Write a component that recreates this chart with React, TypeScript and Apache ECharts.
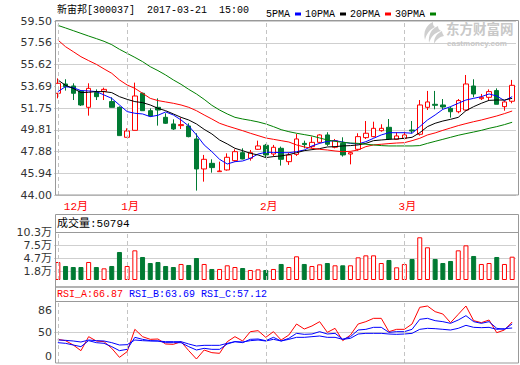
import React, { useEffect, useRef } from "react";
import * as echarts from "echarts";

const dates = [
  "2016-12-20","2016-12-21","2016-12-22","2016-12-23","2016-12-26","2016-12-27","2016-12-28","2016-12-29","2016-12-30",
  "2017-01-03","2017-01-04","2017-01-05","2017-01-06","2017-01-09","2017-01-10","2017-01-11","2017-01-12","2017-01-13",
  "2017-01-16","2017-01-17","2017-01-18","2017-01-19","2017-01-20","2017-01-23","2017-01-24","2017-01-25","2017-01-26",
  "2017-02-03","2017-02-06","2017-02-07","2017-02-08","2017-02-09","2017-02-10","2017-02-13","2017-02-14","2017-02-15",
  "2017-02-16","2017-02-17","2017-02-20","2017-02-21","2017-02-22","2017-02-23","2017-02-24","2017-02-27","2017-02-28",
  "2017-03-01","2017-03-02","2017-03-03","2017-03-06","2017-03-07","2017-03-08","2017-03-09","2017-03-10","2017-03-13",
  "2017-03-14","2017-03-15","2017-03-16","2017-03-17","2017-03-20","2017-03-21"
];

// [open, close, low, high]
const candles: number[][] = [
  [53.06,53.95,52.61,54.39],[53.89,53.65,53.30,54.31],[53.71,53.06,52.46,53.95],[53.27,52.02,51.93,53.35],
  [51.81,53.50,51.07,53.95],[53.12,52.76,52.46,53.41],[53.24,53.41,52.46,53.56],[52.32,51.81,51.81,52.70],
  [51.81,49.29,49.29,51.90],[49.14,49.70,49.14,49.94],[49.76,52.82,49.76,54.01],[53.06,51.51,51.51,53.12],
  [51.51,51.04,50.98,51.72],[51.81,51.57,50.18,52.61],[50.92,50.39,50.33,51.28],[50.33,49.88,49.79,50.74],
  [50.18,50.27,49.88,50.89],[50.15,49.20,49.14,50.39],[48.99,46.32,44.39,49.50],[46.32,47.18,45.19,47.57],
  [46.82,46.44,45.99,47.18],[46.08,46.14,46.08,46.97],[46.23,47.36,46.17,47.71],[47.06,47.86,46.97,48.07],
  [47.77,47.21,47.18,48.16],[47.27,47.77,47.06,48.01],[48.07,48.37,48.01,48.84],[48.43,47.57,47.36,48.55],
  [47.65,48.25,47.42,48.46],[48.16,47.18,46.62,48.31],[46.97,47.57,46.68,47.77],[47.62,48.99,47.48,49.44],
  [48.60,48.49,48.16,48.84],[48.31,48.69,48.16,49.20],[48.69,49.35,48.60,49.41],[49.35,48.52,48.37,49.59],
  [48.25,48.84,48.16,48.99],[48.60,47.57,47.42,49.14],[47.65,47.77,46.73,47.86],[48.07,49.20,47.95,49.50],
  [49.11,49.50,48.99,50.59],[49.20,49.94,49.14,50.53],[49.73,49.94,49.64,50.30],[50.03,48.99,48.90,50.77],
  [48.96,49.26,48.90,49.59],[49.05,49.35,48.96,49.59],[49.79,49.70,49.50,50.59],[49.41,52.02,49.29,52.46],
  [51.81,52.29,51.57,53.27],[52.08,51.99,51.63,53.27],[52.02,51.84,51.63,52.55],[51.72,51.42,50.89,51.87],
  [51.42,52.41,51.28,52.55],[51.57,53.89,51.51,54.69],[53.71,53.00,52.70,54.31],[52.58,52.70,52.46,53.00],
  [52.70,53.21,52.46,53.41],[53.30,52.08,52.08,53.50],[51.87,52.29,51.51,52.38],[52.35,53.77,52.17,54.25]
];

const ma5 = [53.21,53.65,53.56,53.30,53.27,53.21,52.91,52.61,52.02,51.43,51.28,51.22,50.98,51.10,51.40,51.13,50.68,50.15,49.35,48.46,
  47.86,47.18,46.76,46.97,47.03,47.27,47.65,47.80,47.80,47.77,47.77,47.86,48.01,48.37,48.60,48.78,48.84,48.72,48.60,48.55,
  48.75,49.05,49.35,49.55,49.55,49.55,49.50,50.09,50.68,51.13,51.63,51.87,52.17,52.46,52.61,52.76,53.00,52.82,52.41,52.76];
const ma10 = [54.25,53.77,53.50,53.12,53.15,53.21,53.21,53.12,52.76,52.52,52.32,52.23,52.02,51.72,51.51,51.22,50.92,50.68,50.33,49.85,
  49.44,48.90,48.55,48.16,47.95,47.71,47.57,47.33,47.42,47.48,47.60,47.77,47.95,48.04,48.13,48.28,48.31,48.37,48.40,48.46,
  48.60,48.84,48.90,48.96,48.99,49.05,49.14,49.55,50.09,50.39,50.59,50.74,50.92,51.51,51.87,52.17,52.43,52.46,52.46,52.61];
const ma20 = [57.81,57.21,56.77,56.32,55.97,55.64,55.23,54.84,54.25,53.80,53.50,53.06,52.61,52.41,52.29,52.17,52.02,51.81,51.51,51.13,
  50.77,50.39,50.15,49.94,49.73,49.50,49.29,49.08,48.96,48.84,48.72,48.46,48.28,48.16,48.07,48.01,47.92,47.86,47.89,48.01,
  48.31,48.46,48.52,48.58,48.63,48.66,48.84,49.05,49.35,49.53,49.76,49.97,50.18,50.36,50.53,50.68,50.86,51.04,51.25,51.48];
const ma30 = [59.11,58.88,58.64,58.40,58.16,57.93,57.69,57.39,56.98,56.62,56.26,55.88,55.43,55.08,54.69,54.25,53.86,53.41,53.00,52.52,
  51.99,51.57,51.22,50.92,50.77,50.65,50.51,50.33,50.09,49.82,49.64,49.50,49.38,49.26,49.08,48.90,48.78,48.69,48.63,48.60,
  48.52,48.46,48.40,48.37,48.37,48.37,48.37,48.40,48.60,48.78,48.96,49.14,49.32,49.47,49.61,49.76,49.94,50.09,50.27,50.48];

const volumes = [39200,30500,28300,28300,39200,28300,25400,30500,61000,30500,64600,50100,37000,39200,30500,28300,34900,32700,47900,34900,
  24000,24000,32000,28300,26100,21800,23200,21800,24000,34900,28300,51600,34900,30500,34100,37000,32000,32000,32000,49400,
  53700,53700,37000,43600,27600,34900,45800,93000,71200,45800,37000,41400,64600,75500,52300,34900,37000,50100,34900,50794];

const rsiA = [38.60,36.43,29.36,20.11,42.95,35.89,34.80,23.92,9.24,18.48,54.92,42.95,38.60,39.15,30.99,30.45,34.80,20.11,6.52,21.20,
  16.85,15.76,34.80,42.95,35.89,51.11,52.74,41.87,51.11,37.52,45.67,63.62,55.46,60.36,67.43,50.02,56.55,36.43,45.67,63.62,
  67.43,72.86,72.86,51.11,54.92,54.92,63.62,90.81,92.98,83.74,79.93,65.79,79.39,92.98,69.06,65.79,70.14,49.48,53.83,66.87];
const rsiB = [33.17,32.08,29.36,26.64,36.43,33.17,32.08,26.64,20.11,22.29,41.87,38.60,36.43,35.89,33.17,33.17,33.17,26.64,21.20,23.92,
  22.29,22.29,30.99,34.80,33.17,38.60,39.15,36.43,41.87,35.89,40.24,48.39,46.76,47.30,51.11,47.30,48.39,38.60,42.95,53.83,
  54.92,58.18,58.18,50.02,51.11,51.11,54.92,71.23,72.86,69.06,67.43,64.71,70.14,77.21,67.43,64.71,67.43,56.55,54.92,63.69];
const rsiC = [37.52,36.97,35.89,34.25,37.52,36.43,35.89,33.17,29.36,29.90,37.52,36.43,35.89,35.89,34.80,34.80,34.80,30.99,27.73,28.82,
  28.82,28.82,32.08,34.80,34.25,36.43,37.52,35.89,38.60,35.89,38.60,41.87,41.87,42.95,44.04,41.87,41.87,38.60,40.24,47.30,
  48.39,48.39,48.39,47.30,46.76,47.30,48.39,54.92,56.55,56.01,54.92,53.83,56.55,61.44,58.18,57.64,58.18,54.92,56.01,57.12];

const priceTicks = [44, 45.9375, 47.875, 49.8125, 51.75, 53.6875, 55.625, 57.5625, 59.5];
const priceTickLabels = ["44.00","45.94","47.88","49.81","51.75","53.69","55.62","57.56","59.50"];
const volTicks = [0, 18000, 47000, 75000, 103000];
const volTickLabels = ["0","1.8万","4.7万","7.5万","10.3万"];
const rsiTicks = [0, 50, 86];

const RED = "#ff0000";
const GREEN = "#007a33";
const MONO = "'Liberation Mono','Noto Sans CJK SC',monospace";
const AXF = "'DejaVu Sans','Noto Sans CJK SC',sans-serif";

const LOGO_D =
  "M10 0 C3 3 0 10 2 18 C3 13 6 8 12 5 C10 4 10 2 10 0 Z " +
  "M15 4 C8 7 5 13 6 21 C8 15 11 11 18 9 C16 8 15 6 15 4 Z " +
  "M19 9 C13 12 11 16 11 22 C13 18 16 15 21 14 C20 12 19 11 19 9 Z";
echarts.graphic.registerShape("emlogo", echarts.graphic.extendPath(LOGO_D, {}) as any);

export default function App() {
  const ref = useRef<HTMLDivElement>(null);
  useEffect(() => {
    if (!ref.current) return;
    const chart = echarts.init(ref.current, undefined, { renderer: "svg" });
    const monthStarts = dates.map((d, i) => i).filter((i) => i === 0 || dates[i].slice(5, 7) !== dates[i - 1].slice(5, 7));
    const monthLine = {
      silent: true,
      symbol: ["none", "none"],
      label: { show: false },
      lineStyle: { type: [4, 3], color: "#c4c4c4", width: 1 },
      emphasis: { disabled: true },
      data: monthStarts.map((i) => ({ xAxis: dates[i] })),
    };
    const isUp = (c: number[]) => c[1] >= c[0];
    const L = 54, W = 462;
    const findLabel = (ticks: number[], labels: string[]) => (v: number) => {
      const k = ticks.findIndex((t) => Math.abs(t - v) < 1e-6);
      return k >= 0 ? labels[k] : "";
    };
    const catAxis = (gi: number, showLabel: boolean) => ({
      type: "category",
      gridIndex: gi,
      data: dates,
      boundaryGap: true,
      axisLine: { show: false },
      axisTick: { show: false },
      splitLine: { show: false },
      axisLabel: showLabel
        ? {
            show: true,
            interval: (i: number) => monthStarts.indexOf(i) >= 0,
            formatter: (v: string) => Number(v.slice(5, 7)) + "月",
            color: RED,
            fontSize: 11,
            fontFamily: MONO,
            margin: 6,
            padding: [0, 0, 0, 6],
            alignMinLabel: "left",
          }
        : { show: false },
    });
    const maLine = (name: string, data: number[], color: string) => ({
      name,
      type: "line",
      xAxisIndex: 0,
      yAxisIndex: 0,
      data,
      symbol: "none",
      lineStyle: { width: 1, color },
      itemStyle: { color },
      emphasis: { disabled: true },
    });
    const rsiLine = (name: string, data: number[], color: string, extra: any = {}) => ({
      name,
      type: "line",
      xAxisIndex: 2,
      yAxisIndex: 2,
      data,
      symbol: "none",
      lineStyle: { width: 1, color },
      itemStyle: { color },
      emphasis: { disabled: true },
      ...extra,
    });
    const frame = (y: number, h: number) => ({
      type: "rect",
      shape: { x: 55.5, y, width: 463, height: h },
      style: { fill: "none", stroke: "#999", lineWidth: 1 },
      silent: true,
      z: 100,
    });
    const hline = (y: number) => ({
      type: "line",
      shape: { x1: 55.5, y1: y, x2: 518.5, y2: y },
      style: { stroke: "#999", lineWidth: 1 },
      silent: true,
      z: 100,
    });
    const txt = (x: number, y: number, text: string, fill: string, font: string) => ({
      type: "text",
      x,
      y,
      silent: true,
      z: 101,
      style: { text, fill, font, verticalAlign: "middle" },
    });

    chart.setOption({
      animation: false,
      backgroundColor: "#fff",
      legend: {
        left: 261,
        top: 4,
        align: "right",
        itemWidth: 6,
        itemHeight: 3,
        itemGap: 4,
        icon: "rect",
        selectedMode: false,
        textStyle: { fontFamily: MONO, fontSize: 10, color: "#000" },
        data: ["5PMA", "10PMA", "20PMA", "30PMA"],
      },
      grid: [
        { left: L, width: W, top: 21, height: 174 },
        { left: L, width: W, top: 232.7, height: 47.3 },
        { left: L, width: W, top: 301.7, height: 61.3 },
      ],
      xAxis: [catAxis(0, true), catAxis(1, false), catAxis(2, false)],
      yAxis: [
        {
          type: "value",
          gridIndex: 0,
          min: 44,
          max: 59.5,
          axisLine: { show: false },
          axisTick: { show: false, customValues: priceTicks },
          splitLine: { show: true, lineStyle: { color: "#cfcfcf", width: 1 } },
          axisLabel: {
            customValues: priceTicks,
            formatter: findLabel(priceTicks, priceTickLabels),
            color: "#333",
            fontSize: 11,
            fontFamily: AXF,
            margin: 2,
          },
        },
        {
          type: "value",
          gridIndex: 1,
          min: 0,
          max: 103000,
          axisLine: { show: false },
          axisTick: { show: false, customValues: [18000, 47000, 75000] },
          splitLine: { show: true, lineStyle: { color: "#cfcfcf", width: 1 } },
          axisLabel: {
            customValues: volTicks,
            formatter: findLabel(volTicks, volTickLabels),
            color: "#333",
            fontSize: 11,
            fontFamily: AXF,
            margin: 2,
          },
        },
        {
          type: "value",
          gridIndex: 2,
          min: 0,
          max: 100,
          axisLine: { show: false },
          axisTick: { show: false, customValues: [50] },
          splitLine: { show: true, lineStyle: { color: "#cfcfcf", width: 1 } },
          axisLabel: {
            customValues: rsiTicks,
            formatter: (v: number) => (v === 0 ? "{lo|0}" : String(v)),
            rich: { lo: { padding: [0, 0, 14, 0], fontSize: 11, fontFamily: AXF, color: "#333" } },
            color: "#333",
            fontSize: 11,
            fontFamily: AXF,
            margin: 2,
          },
        },
      ],
      series: [
        {
          name: "K",
          type: "candlestick",
          xAxisIndex: 0,
          yAxisIndex: 0,
          barWidth: 5,
          data: candles,
          itemStyle: { color: "#fff", color0: GREEN, borderColor: RED, borderColor0: GREEN, borderWidth: 1 },
          emphasis: { disabled: true },
          markLine: monthLine,
        },
        maLine("5PMA", ma5, "#0000ff"),
        maLine("10PMA", ma10, "#000000"),
        maLine("20PMA", ma20, "#ff0000"),
        maLine("30PMA", ma30, "#008000"),
        {
          name: "VOL",
          type: "bar",
          xAxisIndex: 1,
          yAxisIndex: 1,
          barWidth: 5,
          data: volumes.map((v, i) => {
            const up = isUp(candles[i]);
            return {
              value: v,
              itemStyle: { color: up ? "#fff" : GREEN, borderColor: up ? RED : GREEN, borderWidth: 1 },
            };
          }),
          emphasis: { disabled: true },
          markLine: monthLine,
        },
        rsiLine("RSI_A", rsiA, "#ff0000", { markLine: monthLine }),
        rsiLine("RSI_B", rsiB, "#0000ff"),
        rsiLine("RSI_C", rsiC, "#0000ff"),
      ],
      graphic: [
        frame(20.5, 174.5),
        frame(214.5, 72.5),
        hline(232.5),
        frame(287, 76),
        hline(301.5),
        txt(57, 10.5, "新宙邦[300037]  2017-03-21  15:00", "#000", "10px " + MONO),
        txt(57, 223.5, "成交量:50794", "#000", "11px " + MONO),
        txt(57, 294.5, "RSI_A:66.87", RED, "10px " + MONO),
        txt(129, 294.5, "RSI_B:63.69", "#0000ff", "10px " + MONO),
        txt(201, 294.5, "RSI_C:57.12", "#0000ff", "10px " + MONO),
        {
          type: "emlogo",
          x: 423,
          y: 22,
          scaleX: 1,
          scaleY: 1,
          silent: true,
          z: 1,
          style: { fill: "#cfcfcf" },
        },
        txt(446, 28, "东方财富网", "#c8c8c8", "bold 13.5px 'Noto Sans CJK SC',sans-serif"),
        txt(447, 43, "eastmoney.com", "#c8c8c8", "bold 8px 'Liberation Sans',sans-serif"),
      ],
    });
    return () => chart.dispose();
  }, []);
  return <div ref={ref} style={{ position: "fixed", left: 0, top: 0, width: 520, height: 365 }} />;
}
